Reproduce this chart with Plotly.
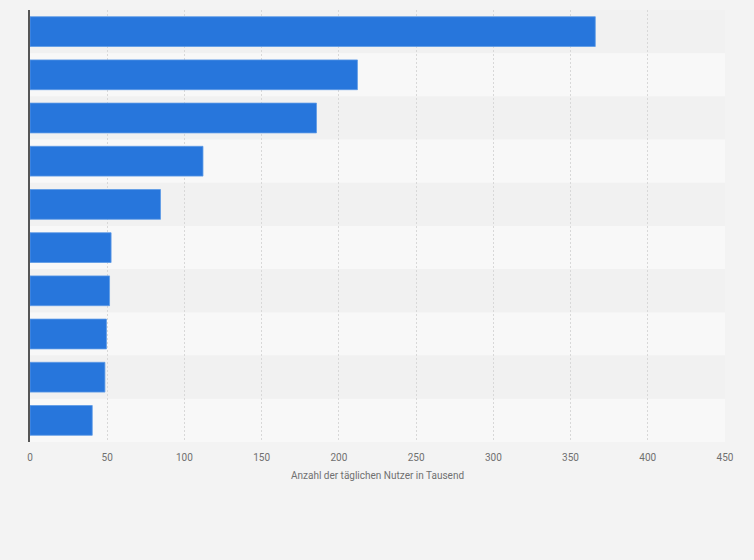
import plotly.graph_objects as go

categories = ["Kategorie 1", "Kategorie 2", "Kategorie 3", "Kategorie 4", "Kategorie 5",
              "Kategorie 6", "Kategorie 7", "Kategorie 8", "Kategorie 9", "Kategorie 10"]
values = [366, 212, 185.5, 112, 84.5, 52.5, 51.5, 49.5, 48.5, 40.3]
tick_vals = [0, 50, 100, 150, 200, 250, 300, 350, 400, 450]
x_title = "Anzahl der täglichen Nutzer in Tausend"

fig = go.Figure()
fig.add_trace(go.Bar(
    y=categories, x=values, orientation="h",
    marker=dict(color="#2776dc", line=dict(color="#5d9ae6", width=0.8)),
    width=0.69, hoverinfo="x",
))

shapes = []
for i, _ in enumerate(categories):
    shapes.append(dict(
        type="rect", xref="x", yref="y", layer="below",
        x0=0, x1=450, y0=i - 0.5, y1=i + 0.5,
        fillcolor="#f1f1f1" if i % 2 == 0 else "#f8f8f8",
        line=dict(width=0),
    ))

fig.update_layout(
    width=754, height=560,
    margin=dict(l=30, r=29, t=10, b=118),
    paper_bgcolor="#f3f3f3", plot_bgcolor="#f3f3f3",
    shapes=shapes,
    showlegend=False,
    font=dict(family="Roboto, Liberation Sans, sans-serif", color="#666666", size=10),
    bargap=0.31,
)
fig.update_xaxes(
    range=[0, 450], tickvals=tick_vals, ticktext=[str(v) for v in tick_vals],
    showgrid=True, gridcolor="#d8d8d8", griddash="2px,2px", gridwidth=1,
    zeroline=False, showline=False, ticks="",
    ticklabelstandoff=8,
    tickfont=dict(size=10, color="#707070"),
    title=dict(text=x_title, font=dict(size=10, color="#707070"), standoff=9),
    layer="above traces",
)
fig.update_yaxes(
    autorange="reversed", showticklabels=False, ticks="",
    showgrid=False, zeroline=False,
    showline=True, linecolor="#555555", linewidth=1.5,
)

fig.write_html(
    "out.html",
    config={"displayModeBar": False},
    post_script="document.body.style.margin='0';document.body.style.background='#f3f3f3';",
)
